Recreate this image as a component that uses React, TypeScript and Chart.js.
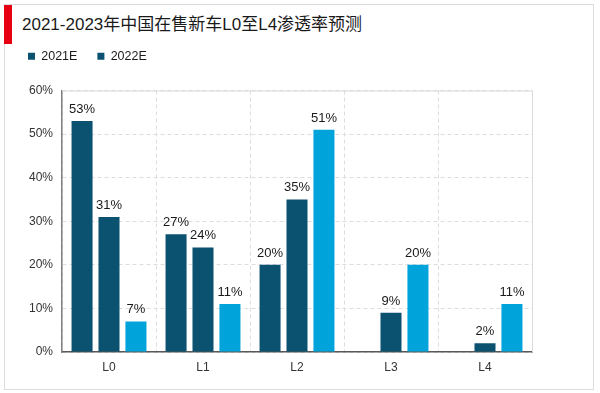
import React, { useEffect, useRef } from "react";
import { Chart, registerables } from "chart.js";

Chart.register(...registerables);

const titleText = "2021-2023年中国在售新车L0至L4渗透率预测";
const categories = ["L0", "L1", "L2", "L3", "L4"];
const seriesNames = ["2021E", "2022E", "2023E"];
const seriesA: (number | null)[] = [53, 27, 20, null, null];
const seriesB: (number | null)[] = [31, 24, 35, 9, 2];
const seriesC: (number | null)[] = [7, 11, 51, 20, 11];
const yMax = 60;
const yStep = 10;

const DARK = "#0b5170";
const LIGHT = "#00a3da";
const FONT = "'Liberation Sans', Arial, 'Noto Sans CJK SC', sans-serif";

const legendMargin = {
  id: "legendMargin",
  beforeInit(chart: any) {
    const legend = chart.legend;
    if (!legend) return;
    const fit = legend.fit;
    legend.fit = function () {
      fit.call(this);
      this.height += 18;
    };
  },
};

const valueLabels = {
  id: "valueLabels",
  afterDatasetsDraw(chart: any) {
    const ctx = chart.ctx;
    ctx.save();
    ctx.font = `13px ${FONT}`;
    ctx.fillStyle = "#1a1a1a";
    ctx.textAlign = "center";
    ctx.textBaseline = "alphabetic";
    chart.data.datasets.forEach((ds: any, i: number) => {
      const meta = chart.getDatasetMeta(i);
      meta.data.forEach((el: any, j: number) => {
        const v = ds.data[j];
        if (v === null || v === undefined) return;
        ctx.fillText(`${v}%`, el.x, el.y - 8);
      });
    });
    ctx.restore();
  },
};

const plotBorder = {
  id: "plotBorder",
  afterDraw(chart: any) {
    const { ctx, chartArea } = chart;
    ctx.save();
    ctx.strokeStyle = "#d9d9d9";
    ctx.lineWidth = 1;
    ctx.beginPath();
    ctx.moveTo(chartArea.left, chartArea.top + 0.5);
    ctx.lineTo(chartArea.right + 0.5, chartArea.top + 0.5);
    ctx.lineTo(chartArea.right + 0.5, chartArea.bottom);
    ctx.stroke();
    ctx.restore();
  },
};

export default function App() {
  const ref = useRef<HTMLCanvasElement | null>(null);

  useEffect(() => {
    if (!ref.current) return;
    const chart = new Chart(ref.current, {
      type: "bar",
      data: {
        labels: categories,
        datasets: [
          { label: seriesNames[0], data: seriesA, backgroundColor: DARK },
          { label: seriesNames[1], data: seriesB, backgroundColor: DARK },
          { label: seriesNames[2], data: seriesC, backgroundColor: LIGHT },
        ],
      },
      options: {
        responsive: false,
        animation: false,
        devicePixelRatio: 1,
        datasets: {
          bar: { categoryPercentage: 0.86, barPercentage: 0.78 },
        },
        layout: { padding: { left: 8, right: 68, top: 30, bottom: 10 } },
        plugins: {
          legend: {
            position: "top",
            align: "start",
            labels: {
              boxWidth: 7,
              boxHeight: 7,
              padding: 20,
              color: "#1a1a1a",
              font: { family: FONT, size: 12.5 },
              filter: (item: any) => item.datasetIndex < 2,
            },
          },
          tooltip: { enabled: false },
          title: { display: false },
        },
        scales: {
          x: {
            grid: {
              display: true,
              color: "#dddddd",
              drawTicks: false,
              offset: true,
            },
            border: { display: true, color: "#595959", width: 1.5, dash: [4, 3] },
            ticks: {
              color: "#333333",
              font: { family: FONT, size: 12 },
              padding: 8,
            },
            afterFit: (s: any) => {
              s.height = 31;
            },
          },
          y: {
            min: 0,
            max: yMax,
            ticks: {
              stepSize: yStep,
              color: "#333333",
              font: { family: FONT, size: 12 },
              padding: 9,
              callback: (v: any) => `${v}%`,
            },
            grid: { color: "#dddddd", drawTicks: false },
            border: { display: true, color: "#7f7f7f", width: 1.5, dash: [4, 3] },
            afterFit: (s: any) => {
              s.width = 54;
            },
          },
        },
      },
      plugins: [legendMargin, valueLabels, plotBorder],
    } as any);
    return () => chart.destroy();
  }, []);

  return (
    <div
      style={{
        position: "absolute",
        left: 0,
        top: 0,
        width: 600,
        height: 393,
        background: "#ffffff",
        overflow: "hidden",
      }}
    >
      <div
        style={{
          position: "absolute",
          left: 4,
          top: 4,
          width: 590,
          height: 386,
          border: "1px solid #dcdcdc",
          boxSizing: "border-box",
        }}
      />
      <div
        style={{
          position: "absolute",
          left: 4,
          top: 5,
          width: 8,
          height: 39,
          background: "#e60012",
        }}
      />
      <div
        style={{
          position: "absolute",
          left: 22,
          top: 14,
          height: 22,
          lineHeight: "22px",
          fontSize: 17,
          fontFamily: FONT,
          color: "#1a1a1a",
          whiteSpace: "nowrap",
        }}
      >
        {titleText}
      </div>
      <canvas
        ref={ref}
        width={600}
        height={393}
        style={{ position: "absolute", left: 0, top: 0, width: 600, height: 393 }}
      />
    </div>
  );
}
